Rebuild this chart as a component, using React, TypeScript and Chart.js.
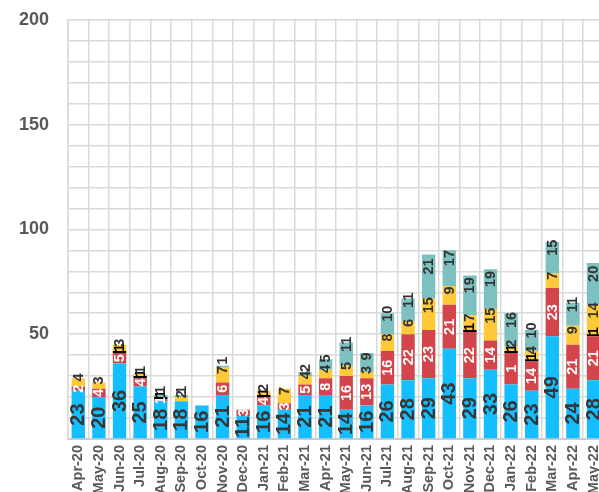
import React, { useEffect, useRef } from "react";
import { Chart, registerables } from "chart.js";

Chart.register(...registerables);

const categories = [
  "Apr-20", "May-20", "Jun-20", "Jul-20", "Aug-20", "Sep-20", "Oct-20", "Nov-20", "Dec-20",
  "Jan-21", "Feb-21", "Mar-21", "Apr-21", "May-21", "Jun-21", "Jul-21", "Aug-21", "Sep-21",
  "Oct-21", "Nov-21", "Dec-21", "Jan-22", "Feb-22", "Mar-22", "Apr-22", "May-22",
];

const blueValues = [23, 20, 36, 25, 18, 18, 16, 21, 11, 16, 14, 21, 21, 14, 16, 26, 28, 29, 43, 29, 33, 26, 23, 49, 24, 28];
const redValues = [2, 4, 5, 4, 1, 0, 0, 6, 3, 4, 3, 5, 8, 16, 13, 16, 22, 23, 21, 22, 14, 15, 14, 23, 21, 21];
const blackValues = [0, 0, 1, 1, 1, 0, 0, 0, 0, 1, 0, 0, 0, 0, 0, 0, 0, 0, 0, 1, 0, 1, 1, 0, 0, 1];
const yellowValues = [4, 3, 3, 1, 0, 2, 0, 7, 0, 2, 7, 4, 4, 5, 3, 8, 6, 15, 9, 7, 15, 2, 4, 7, 9, 14];
const tealValues = [0, 0, 0, 0, 1, 1, 0, 1, 0, 0, 0, 2, 5, 11, 9, 10, 11, 21, 17, 19, 19, 16, 10, 15, 11, 20];

// data label text shown on the red segment where it differs from the value
const redLabelOverrides: Record<number, string> = { 21: "1" };

const yTickLabels = [50, 100, 150, 200];

type LabelStyle = { color: string; size: number; align: CanvasTextAlign; offset: number };

const labelStyles: LabelStyle[] = [
  { color: "#363636", size: 20, align: "center", offset: 0 },
  { color: "#ffffff", size: 14.5, align: "center", offset: 0 },
  { color: "#000000", size: 14.5, align: "left", offset: 0 },
  { color: "#333333", size: 14.5, align: "left", offset: 1 },
  { color: "#333333", size: 14.5, align: "left", offset: 2 },
];

const segLabelPlugin = {
  id: "segLabels",
  afterDatasetsDraw(chart: any) {
    const ctx = chart.ctx as CanvasRenderingContext2D;
    chart.data.datasets.forEach((ds: any, di: number) => {
      const meta = chart.getDatasetMeta(di);
      const st = labelStyles[di];
      meta.data.forEach((el: any, i: number) => {
        const v = ds.data[i];
        if (!v) return;
        let text = String(v);
        if (di === 1 && redLabelOverrides[i] !== undefined) text = redLabelOverrides[i];
        const { x, y, base } = el.getProps(["x", "y", "base"], true);
        const cy = (y + base) / 2;
        ctx.save();
        ctx.translate(x, cy);
        ctx.rotate(-Math.PI / 2);
        ctx.font = `bold ${st.size}px 'Liberation Sans', Arial, sans-serif`;
        ctx.fillStyle = st.color;
        ctx.textAlign = st.align;
        ctx.textBaseline = "middle";
        ctx.fillText(text, st.offset, 0.5);
        ctx.restore();
      });
    });
  },
};

export default function App() {
  const canvasRef = useRef<HTMLCanvasElement | null>(null);

  useEffect(() => {
    if (!canvasRef.current) return;
    Chart.defaults.font.family = "'Liberation Sans', Arial, sans-serif";
    const mk = (label: string, data: number[], color: string) => ({
      label,
      data,
      backgroundColor: color,
      borderWidth: 0,
      barPercentage: 0.65,
      categoryPercentage: 1.0,
    });
    const chart = new Chart(canvasRef.current, {
      type: "bar",
      data: {
        labels: categories,
        datasets: [
          mk("Blue", blueValues, "#14BEFF"),
          mk("Red", redValues, "#D2464B"),
          mk("Black", blackValues, "#000000"),
          mk("Yellow", yellowValues, "#FFCA3A"),
          mk("Teal", tealValues, "#7DC0C0"),
        ],
      },
      options: {
        animation: false,
        responsive: true,
        maintainAspectRatio: false,
        layout: { padding: { top: 9, right: 3, bottom: 0, left: 0 } },
        plugins: { legend: { display: false }, tooltip: { enabled: false } },
        scales: {
          x: {
            stacked: true,
            grid: { color: "#d9d9d9", lineWidth: 1.5, offset: true, drawTicks: false },
            border: { color: "#cccccc", width: 2 },
            ticks: {
              minRotation: 90,
              maxRotation: 90,
              autoSkip: false,
              padding: 6,
              color: "#595959",
              font: { size: 14.5, weight: "bold" },
            },
            afterFit: (s: any) => {
              s.height = 101;
            },
          },
          y: {
            stacked: true,
            min: 0,
            max: 200,
            grid: { color: "#d9d9d9", lineWidth: 1.5, drawTicks: false },
            border: { color: "#d9d9d9", width: 1.5 },
            ticks: {
              stepSize: 10,
              maxTicksLimit: 30,
              autoSkip: false,
              padding: 19,
              color: "#595959",
              font: { size: 18, weight: "bold" },
              callback: (v: any) => (yTickLabels.includes(Number(v)) ? String(v) : ""),
            },
            afterFit: (s: any) => {
              s.width = 68;
            },
          },
        },
      },
      plugins: [segLabelPlugin],
    });
    return () => chart.destroy();
  }, []);

  return (
    <div
      style={{
        position: "fixed",
        left: 0,
        top: 0,
        width: 599,
        height: 492,
        overflow: "hidden",
        background: "#ffffff",
      }}
    >
      <div style={{ position: "relative", width: 617, height: 550, marginTop: -10 }}>
        <canvas ref={canvasRef} />
      </div>
    </div>
  );
}
